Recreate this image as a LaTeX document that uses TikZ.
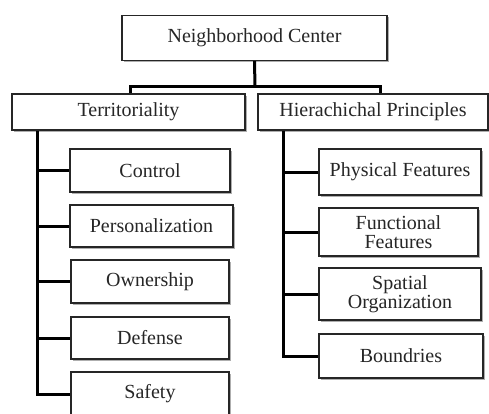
\documentclass[tikz,border=0pt]{standalone}
\usepackage{fontspec}
\setmainfont{Liberation Serif}
\usetikzlibrary{shadows}
\begin{document}
\begin{tikzpicture}[x=1pt,y=1pt,
  box/.style={draw=black!85, line width=1.3pt, fill=white, inner sep=0pt,
    align=center, text=black!85, font=\fontsize{20}{19.5}\selectfont,
    drop shadow={shadow xshift=1.6pt, shadow yshift=-1.6pt, fill=black!45, opacity=0.7}},
  conn/.style={line width=3pt, draw=black}]
\useasboundingbox (0,0) rectangle (489,-414);
\node[box, minimum width=265, minimum height=45] (top) at (254.5,-38) {Neighborhood Center};
\node[box, minimum width=233, minimum height=36] (terr) at (128.5,-112) {Territoriality};
\node[box, minimum width=230, minimum height=36] (hier) at (373,-112) {Hierachichal Principles};
\node[box, minimum width=160, minimum height=43] (control) at (150,-170.5) {Control};
\node[box, minimum width=163, minimum height=42] (pers) at (151.5,-226) {Personalization};
\node[box, minimum width=158, minimum height=43] (own) at (150,-281.5) {Ownership};
\node[box, minimum width=158, minimum height=42] (def) at (150,-338) {Defense};
\node[box, minimum width=158, minimum height=44] (safe) at (150,-394) {Safety};
\node[box, minimum width=162, minimum height=46] (phys) at (400,-172) {Physical Features};
\node[box, minimum width=159, minimum height=48] (func) at (398.5,-232) {Functional\\Features};
\node[box, minimum width=162, minimum height=52] (spat) at (400,-294) {Spatial\\Organization};
\node[box, minimum width=164, minimum height=44] (bound) at (401,-356) {Boundries};
\coordinate (j) at (255,-87);
\coordinate (jl) at (130,-87);
\coordinate (jr) at (380,-87);
\coordinate (lt) at (37,-130.6);
\coordinate (rt) at (283,-130.6);
\draw[conn] (top.south) -- (j);
\draw[conn] (terr.north -| jl) -- (jl) -- (jr) -- (hier.north -| jr);
\draw[conn] (lt) |- (safe.west);
\draw[conn] (lt |- control.west) -- (control.west);
\draw[conn] (lt |- pers.west) -- (pers.west);
\draw[conn] (lt |- own.west) -- (own.west);
\draw[conn] (lt |- def.west) -- (def.west);
\draw[conn] (rt) |- (bound.west);
\draw[conn] (rt |- phys.west) -- (phys.west);
\draw[conn] (rt |- func.west) -- (func.west);
\draw[conn] (rt |- spat.west) -- (spat.west);
\end{tikzpicture}
\end{document}
